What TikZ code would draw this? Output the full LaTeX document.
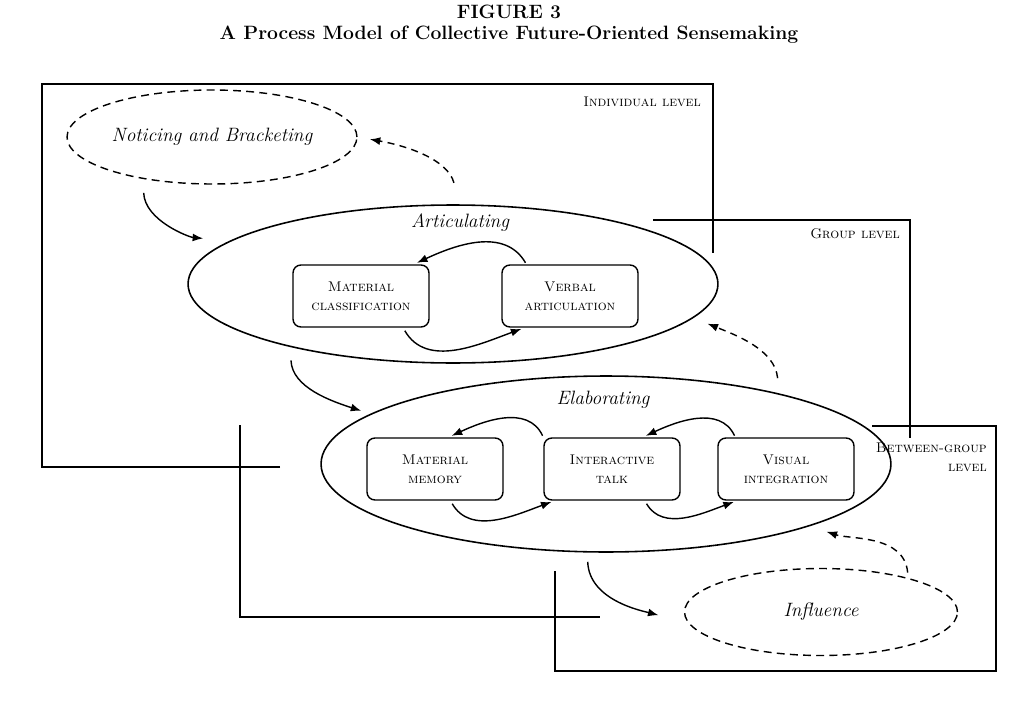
\documentclass[tikz,border=0pt]{standalone}
\usepackage{tikz}
\usetikzlibrary{shapes.geometric,arrows.meta}

\tikzset{
  phase/.style={draw, ellipse, line width=0.9pt, inner sep=0pt, outer sep=0pt},
  context/.style={draw, ellipse, dash pattern=on 4.5pt off 3pt, line width=0.8pt, inner sep=0pt, outer sep=0pt, font=\fontsize{11}{13}\selectfont\itshape},
  practice/.style={draw, rounded corners=4.5pt, line width=0.8pt, minimum width=2.72cm, minimum height=1.24cm, align=center, font=\fontsize{8}{11}\selectfont\scshape},
  levelname/.style={anchor=east, align=right, font=\fontsize{8}{11}\selectfont\scshape},
  phasename/.style={font=\fontsize{11}{13}\selectfont\itshape},
  frame/.style={line width=0.9pt},
  flow/.style={-{Latex[length=6pt,width=4.5pt]}, line width=0.8pt},
  feedback/.style={flow, dash pattern=on 4pt off 3pt},
}

\begin{document}
\begin{tikzpicture}[x=0.02cm, y=-0.02cm]
\useasboundingbox (0,0) rectangle (1018,720);

% title
\node[font=\fontsize{11}{13}\selectfont\bfseries] (fignum) at (509,12) {FIGURE 3};
\node[font=\fontsize{11}{13}\selectfont\bfseries] (figtitle) at (509,35) {A Process Model of Collective Future-Oriented Sensemaking};

% level frames
\draw[frame] (280,467) -- (42,467) -- (42,84) -- (713,84) -- (713,253);
\draw[frame] (653,220) -- (910,220) -- (910,438);
\draw[frame] (240,425) -- (240,617) -- (600,617);
\draw[frame] (872,426) -- (996,426) -- (996,671) -- (555,671) -- (555,571);
\node[levelname] (indiv) at (707,102) {Individual level};
\node[levelname] (group) at (906,234) {Group level};
\node[levelname] (between) at (993,457) {Between-group\\level};

% phases
\node[context, minimum width=5.8cm, minimum height=1.88cm] (notice) at (212,137) {Noticing and Bracketing};
\node[phase, minimum width=10.6cm, minimum height=3.16cm] (artic) at (453,284) {};
\node[phasename] (articname) at (460,223) {Articulating};
\node[phase, minimum width=11.4cm, minimum height=3.52cm] (elab) at (606,464) {};
\node[phasename] (elabname) at (603,400) {Elaborating};
\node[context, minimum width=5.46cm, minimum height=1.74cm] (influ) at (821,612) {Influence};

% practices
\node[practice] (matclass) at (361,296) {Material\\classification};
\node[practice] (verbart) at (570,296) {Verbal\\articulation};
\node[practice] (matmem) at (435,469) {Material\\memory};
\node[practice] (intertalk) at (612,469) {Interactive\\talk};
\node[practice] (visint) at (786,469) {Visual\\integration};

% loops inside the phases
\draw[flow, shorten <=1pt, shorten >=2pt] (verbart.144) to[out=120,in=25] (matclass.31);
\draw[flow, shorten <=2pt, shorten >=2pt] (matclass.-37) to[out=-60,in=200] (verbart.-145);
\draw[flow, shorten <=1pt, shorten >=2pt] (intertalk.north west) to[out=115,in=25] (matmem.67);
\draw[flow, shorten <=1pt, shorten >=2pt] (visint.148) to[out=115,in=25] (intertalk.46);
\draw[flow, shorten <=2pt, shorten >=2pt] (matmem.-64) to[out=-60,in=200] (intertalk.-151);
\draw[flow, shorten <=2pt, shorten >=2pt] (intertalk.-44) to[out=-60,in=200] (visint.-147);

% flow between phases
\draw[flow, shorten <=0.29cm, shorten >=0.56cm] (notice.211) to[out=-88,in=175] (artic.169);
\draw[flow, shorten <=0.28cm, shorten >=0.21cm] (artic.201) to[out=-88,in=162] (elab.168);
\draw[flow, shorten <=0.2cm, shorten >=0.64cm] (elab.-102) to[out=-88,in=165] (influ.185);

% feedback
\draw[feedback, shorten <=0.46cm, shorten >=0.26cm] (artic.85) to[out=105,in=-10] (notice.east);
\draw[feedback, shorten <=0.32cm, shorten >=0.32cm] (elab.22) to[out=95,in=-22] (artic.-8);
\draw[feedback, shorten <=0.12cm, shorten >=0.38cm] (influ.21) to[out=95,in=-18] (elab.-17);
\end{tikzpicture}
\end{document}
